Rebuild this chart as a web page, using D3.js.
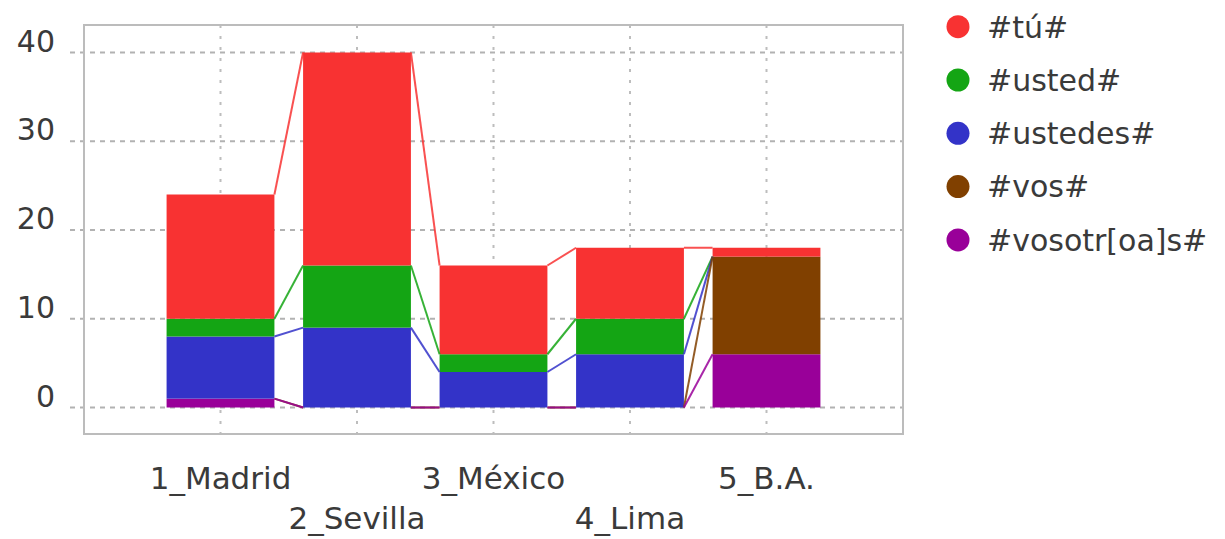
<!DOCTYPE html>
<html><head><meta charset="utf-8">
<script src="https://cdn.jsdelivr.net/npm/d3@7"></script>
<style>
body{margin:0;background:#fff}
svg{display:block}
text{font-family:"DejaVu Sans",sans-serif;fill:#3a3a3a}
</style>
</head><body>
<svg id="c" width="1225" height="539"></svg>
<script>
// ---- data ----
const categories = ["1_Madrid", "2_Sevilla", "3_México", "4_Lima", "5_B.A."];
// stack order, bottom -> top
const seriesNames = ["#vosotr[oa]s#", "#vos#", "#ustedes#", "#usted#", "#tú#"];
const vosotros = [1, 0, 0, 0, 6];
const vos      = [0, 0, 0, 0, 11];
const ustedes  = [7, 9, 4, 6, 0];
const usted    = [2, 7, 2, 4, 0];
const tu       = [14, 24, 10, 8, 1];
const yTicks = [0, 10, 20, 30, 40];
const colors = ["#990099", "#804000", "#3333c8", "#14a514", "#f83232"];

const seriesValues = [vosotros, vos, ustedes, usted, tu];
const rows = categories.map((c, i) => {
  const r = {cat: c};
  seriesNames.forEach((s, k) => r[s] = seriesValues[k][i]);
  return r;
});

// ---- layout ----
const frame = {x0: 84, x1: 903, y0: 25, y1: 434};
const svg = d3.select("#c");

const x = d3.scalePoint().domain(categories).range([frame.x0, frame.x1]).padding(1);
const y = d3.scaleLinear().domain([0, 40]).range([407.5, 52.5]);
const bw = x.step() * 0.79;
const color = d3.scaleOrdinal().domain(seriesNames).range(colors);

const stack = d3.stack().keys(seriesNames)(rows);

// grid
const grid = svg.append("g");
grid.selectAll("line.h").data(yTicks).join("line")
  .attr("x1", 70).attr("x2", frame.x1)
  .attr("y1", d => y(d)).attr("y2", d => y(d))
  .attr("stroke", "#b2b2b2").attr("stroke-width", 2).attr("stroke-dasharray", "5,5");
grid.selectAll("line.v").data(categories).join("line")
  .attr("x1", d => x(d)).attr("x2", d => x(d))
  .attr("y1", frame.y0).attr("y2", frame.y1 + 9)
  .attr("stroke", "#bdbdbd").attr("stroke-width", 2).attr("stroke-dasharray", "3,8");

// y labels (baseline on the gridline)
svg.append("g").selectAll("text").data(yTicks).join("text")
  .attr("x", 55).attr("y", d => y(d) - 1)
  .attr("text-anchor", "end")
  .style("font-size", "30px")
  .text(d => d);

// bars
const layers = svg.append("g").selectAll("g").data(stack).join("g")
  .attr("fill", d => color(d.key));
layers.selectAll("rect").data(d => d).join("rect")
  .attr("x", d => x(d.data.cat) - bw / 2)
  .attr("width", bw)
  .attr("y", d => y(d[1]))
  .attr("height", d => y(d[0]) - y(d[1]));

// connectors between bars (top of each series), drawn top series first
const conn = svg.append("g");
stack.slice().reverse().forEach(layer => {
  const segs = [];
  for (let i = 0; i < layer.length - 1; i++) {
    segs.push([
      [x(categories[i]) + bw / 2, y(layer[i][1])],
      [x(categories[i + 1]) - bw / 2, y(layer[i + 1][1])]
    ]);
  }
  conn.append("g").selectAll("path").data(segs).join("path")
    .attr("d", d => d3.line()(d))
    .attr("fill", "none")
    .attr("stroke", color(layer.key))
    .attr("stroke-width", 2)
    .attr("stroke-opacity", 0.85);
});

// frame
svg.append("rect")
  .attr("x", frame.x0).attr("y", frame.y0)
  .attr("width", frame.x1 - frame.x0).attr("height", frame.y1 - frame.y0)
  .attr("fill", "none").attr("stroke", "#bcbcbc").attr("stroke-width", 2);

// x labels, staggered
svg.append("g").selectAll("text").data(categories).join("text")
  .attr("x", d => x(d))
  .attr("y", (d, i) => i % 2 === 0 ? 489 : 529)
  .attr("text-anchor", "middle")
  .style("font-size", "31px")
  .text(d => d);

// legend
const legendItems = seriesNames.slice().reverse();
const lg = svg.append("g").selectAll("g").data(legendItems).join("g")
  .attr("transform", (d, i) => `translate(958,${26.7 + i * 53.3})`);
lg.append("circle").attr("r", 11.5).attr("fill", d => color(d));
lg.append("text").attr("x", 29).attr("dy", "0.36em")
  .style("font-size", "30px")
  .text(d => d);
</script>
</body></html>
